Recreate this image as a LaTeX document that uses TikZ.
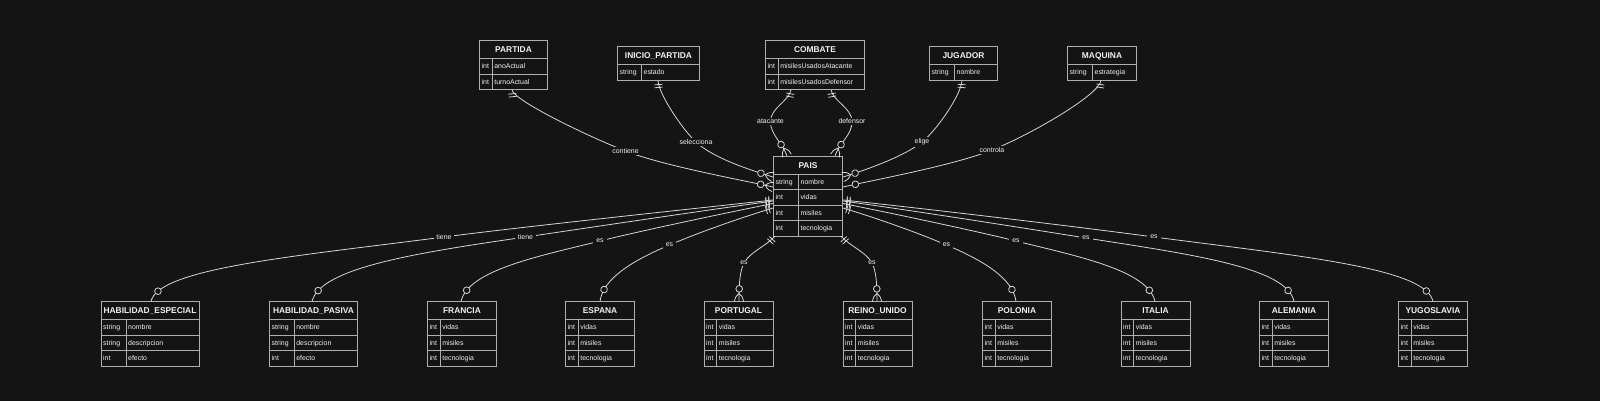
\documentclass[tikz,border=0pt]{standalone}
\usepackage{fontspec}
\setmainfont{Liberation Sans}
\usepackage{colortbl}
\usetikzlibrary{decorations.markings}

\definecolor{bgc}{RGB}{20,20,20}
\definecolor{linec}{RGB}{214,214,214}
\definecolor{boxc}{RGB}{175,175,175}
\definecolor{txtc}{RGB}{242,242,242}

\setlength{\tabcolsep}{1.5pt}
\setlength{\arrayrulewidth}{0.5pt}
\arrayrulecolor{boxc}

\newcommand\erhead[1]{\multicolumn{2}{|c|}{\rule[-4.25pt]{0pt}{13pt}\fontsize{6.3}{7}\selectfont\bfseries #1}}
\newcommand\errow{\rule[-3.8pt]{0pt}{11.1pt}}

\tikzset{every picture/.style={line width=0.6pt}}
\tikzset{
  entity/.style={inner sep=0pt, outer sep=0pt, fill=bgc, text=txtc, font=\fontsize{5.2}{6}\selectfont},
  rellbl/.style={fill=bgc, text=txtc, inner xsep=2.2pt, inner ysep=1pt, font=\fontsize{5.2}{6}\selectfont},
  rel/.style={draw=linec, postaction={decorate}, decoration={markings,
      mark=at position 0 with {\draw[linec] (3pt,-3pt) -- (3pt,3pt) (5.2pt,-3pt) -- (5.2pt,3pt);},
      mark=at position -9.5pt with {\draw[linec,fill=bgc] (0,0) circle (2.5pt);},
      mark=at position 1 with {\draw[linec] (-6pt,0) .. controls (-4pt,2.3pt) and (-2pt,3.5pt) .. (0,3.5pt)
                                            (-6pt,0) .. controls (-4pt,-2.3pt) and (-2pt,-3.5pt) .. (0,-3.5pt);}}},
}

\begin{document}
\begin{tikzpicture}[x=0.75pt,y=0.75pt,yscale=-1,xscale=1]
%Background
\fill[bgc] (0,0) rectangle (1600,401);

%Entity: PARTIDA
\node[entity] (partida) at (513.5,65) {\begin{tabular}{|p{6pt}|p{38.25pt}|}\hline
  \erhead{PARTIDA}\\\hline
  \errow int & anoActual\\\hline
  \errow int & turnoActual\\\hline
\end{tabular}};
%Entity: INICIO_PARTIDA
\node[entity] (inicio) at (658.5,63.5) {\begin{tabular}{|p{14.5pt}|p{40.25pt}|}\hline
  \erhead{INICIO\_PARTIDA}\\\hline
  \errow string & estado\\\hline
\end{tabular}};
%Entity: COMBATE
\node[entity] (combate) at (815,65) {\begin{tabular}{|p{6pt}|p{61.5pt}|}\hline
  \erhead{COMBATE}\\\hline
  \errow int & misilesUsadosAtacante\\\hline
  \errow int & misilesUsadosDefensor\\\hline
\end{tabular}};
%Entity: JUGADOR
\node[entity] (jugador) at (963.5,63.5) {\begin{tabular}{|p{15.25pt}|p{29pt}|}\hline
  \erhead{JUGADOR}\\\hline
  \errow string & nombre\\\hline
\end{tabular}};
%Entity: MAQUINA
\node[entity] (maquina) at (1102,63.5) {\begin{tabular}{|p{15.25pt}|p{29.75pt}|}\hline
  \erhead{MAQUINA}\\\hline
  \errow string & estrategia\\\hline
\end{tabular}};
%Entity: PAIS
\node[entity] (pais) at (808,196) {\begin{tabular}{|p{15.25pt}|p{29.75pt}|}\hline
  \erhead{PAIS}\\\hline
  \errow string & nombre\\\hline
  \errow int & vidas\\\hline
  \errow int & misiles\\\hline
  \errow int & tecnologia\\\hline
\end{tabular}};

%Entity: HABILIDAD_ESPECIAL
\node[entity] (hesp) at (150,334) {\begin{tabular}{|p{15.25pt}|p{51.5pt}|}\hline
  \erhead{HABILIDAD\_ESPECIAL}\\\hline
  \errow string & nombre\\\hline
  \errow string & descripcion\\\hline
  \errow int & efecto\\\hline
\end{tabular}};
%Entity: HABILIDAD_PASIVA
\node[entity] (hpas) at (313.5,334) {\begin{tabular}{|p{15pt}|p{44.25pt}|}\hline
  \erhead{HABILIDAD\_PASIVA}\\\hline
  \errow string & nombre\\\hline
  \errow string & descripcion\\\hline
  \errow int & efecto\\\hline
\end{tabular}};
%Entity: FRANCIA
\node[entity] (francia) at (462,334) {\begin{tabular}{|p{6pt}|p{39pt}|}\hline
  \erhead{FRANCIA}\\\hline
  \errow int & vidas\\\hline
  \errow int & misiles\\\hline
  \errow int & tecnologia\\\hline
\end{tabular}};
%Entity: ESPANA
\node[entity] (espana) at (600,334) {\begin{tabular}{|p{6pt}|p{39pt}|}\hline
  \erhead{ESPANA}\\\hline
  \errow int & vidas\\\hline
  \errow int & misiles\\\hline
  \errow int & tecnologia\\\hline
\end{tabular}};
%Entity: PORTUGAL
\node[entity] (portugal) at (738.5,334) {\begin{tabular}{|p{6pt}|p{39pt}|}\hline
  \erhead{PORTUGAL}\\\hline
  \errow int & vidas\\\hline
  \errow int & misiles\\\hline
  \errow int & tecnologia\\\hline
\end{tabular}};
%Entity: REINO_UNIDO
\node[entity] (reino) at (877.5,334) {\begin{tabular}{|p{6pt}|p{39pt}|}\hline
  \erhead{REINO\_UNIDO}\\\hline
  \errow int & vidas\\\hline
  \errow int & misiles\\\hline
  \errow int & tecnologia\\\hline
\end{tabular}};
%Entity: POLONIA
\node[entity] (polonia) at (1017,334) {\begin{tabular}{|p{6pt}|p{39pt}|}\hline
  \erhead{POLONIA}\\\hline
  \errow int & vidas\\\hline
  \errow int & misiles\\\hline
  \errow int & tecnologia\\\hline
\end{tabular}};
%Entity: ITALIA
\node[entity] (italia) at (1155.5,334) {\begin{tabular}{|p{6pt}|p{39pt}|}\hline
  \erhead{ITALIA}\\\hline
  \errow int & vidas\\\hline
  \errow int & misiles\\\hline
  \errow int & tecnologia\\\hline
\end{tabular}};
%Entity: ALEMANIA
\node[entity] (alemania) at (1294,334) {\begin{tabular}{|p{6pt}|p{39pt}|}\hline
  \erhead{ALEMANIA}\\\hline
  \errow int & vidas\\\hline
  \errow int & misiles\\\hline
  \errow int & tecnologia\\\hline
\end{tabular}};
%Entity: YUGOSLAVIA
\node[entity] (yugo) at (1433,334) {\begin{tabular}{|p{6pt}|p{39pt}|}\hline
  \erhead{YUGOSLAVIA}\\\hline
  \errow int & vidas\\\hline
  \errow int & misiles\\\hline
  \errow int & tecnologia\\\hline
\end{tabular}};

%Relation: contiene
\draw[rel] (partida.south -| 512,0) .. controls (513,100) and (587,136) .. (625.5,151) node[rellbl] (lcontiene) {contiene}
   .. controls (664,166) and (742,180) .. (pais.west |- 0,187);
%Relation: selecciona
\draw[rel] (inicio.south -| 658,0) .. controls (659,95) and (683,130) .. (696,142) node[rellbl] (lselecciona) {selecciona}
   .. controls (713,158) and (750,170) .. (pais.west |- 0,177);
%Relation: atacante
\draw[rel] (combate.south -| 791,0) .. controls (789,101) and (770.5,108) .. (770.5,121.5) node[rellbl] (latacante) {atacante}
   .. controls (770.5,135) and (782,142) .. (pais.north -| 787,0);
%Relation: defensor
\draw[rel] (combate.south -| 831,0) .. controls (833,101) and (852,108) .. (852,121.5) node[rellbl] (ldefensor) {defensor}
   .. controls (852,135) and (840,142) .. (pais.north -| 835,0);
%Relation: elige
\draw[rel] (jugador.south -| 962,0) .. controls (961,95) and (937,130) .. (922,142) node[rellbl] (lelige) {elige}
   .. controls (905,156) and (866,170) .. (pais.east |- 0,177);
%Relation: controla
\draw[rel] (maquina.south -| 1101,0) .. controls (1099,95) and (1030,135) .. (992,150) node[rellbl] (lcontrola) {controla}
   .. controls (955,165) and (874,180) .. (pais.east |- 0,187);

%Relation: tiene (especial)
\draw[rel] (pais.west |- 0,200) .. controls (700,208) and (520,227) .. (444,237) node[rellbl] (ltiene1) {tiene}
   .. controls (298,256) and (158,268) .. (hesp.north -| 151,0);
%Relation: tiene (pasiva)
\draw[rel] (pais.west |- 0,201) .. controls (700,211) and (580,229) .. (525.5,237) node[rellbl] (ltiene2) {tiene}
   .. controls (415,253) and (320,268) .. (hpas.north -| 312,0);
%Relation: es (francia)
\draw[rel] (pais.west |- 0,203.5) .. controls (730,212) and (640,231) .. (600,241) node[rellbl] (lfrancia) {es}
   .. controls (540,256) and (468,270) .. (francia.north -| 461,0);
%Relation: es (espana)
\draw[rel] (pais.west |- 0,208) .. controls (740,218) and (700,232) .. (669.5,245) node[rellbl] (lespana) {es}
   .. controls (634,260) and (603,278) .. (espana.north -| 600,0);
%Relation: es (portugal)
\draw[rel] (pais.south -| 775,0) .. controls (766,246) and (750,252) .. (744,263) node[rellbl] (lportugal) {es}
   .. controls (740,271) and (739,282) .. (portugal.north -| 739,0);
%Relation: es (reino unido)
\draw[rel] (pais.south -| 841,0) .. controls (850,246) and (866,252) .. (872,263) node[rellbl] (lreino) {es}
   .. controls (876,271) and (877,282) .. (reino.north -| 877,0);
%Relation: es (polonia)
\draw[rel] (pais.east |- 0,208) .. controls (876,218) and (916,232) .. (946.5,245) node[rellbl] (lpolonia) {es}
   .. controls (982,260) and (1013,278) .. (polonia.north -| 1016,0);
%Relation: es (italia)
\draw[rel] (pais.east |- 0,203.5) .. controls (886,212) and (976,231) .. (1016,241) node[rellbl] (litalia) {es}
   .. controls (1076,256) and (1148,270) .. (italia.north -| 1155,0);
%Relation: es (alemania)
\draw[rel] (pais.east |- 0,201) .. controls (916,211) and (1030,229) .. (1086,238) node[rellbl] (lalemania) {es}
   .. controls (1196,255) and (1287,268) .. (alemania.north -| 1294,0);
%Relation: es (yugoslavia)
\draw[rel] (pais.east |- 0,200) .. controls (920,208) and (1080,227) .. (1154,237) node[rellbl] (lyugo) {es}
   .. controls (1300,256) and (1426,268) .. (yugo.north -| 1433,0);

\end{tikzpicture}
\end{document}
